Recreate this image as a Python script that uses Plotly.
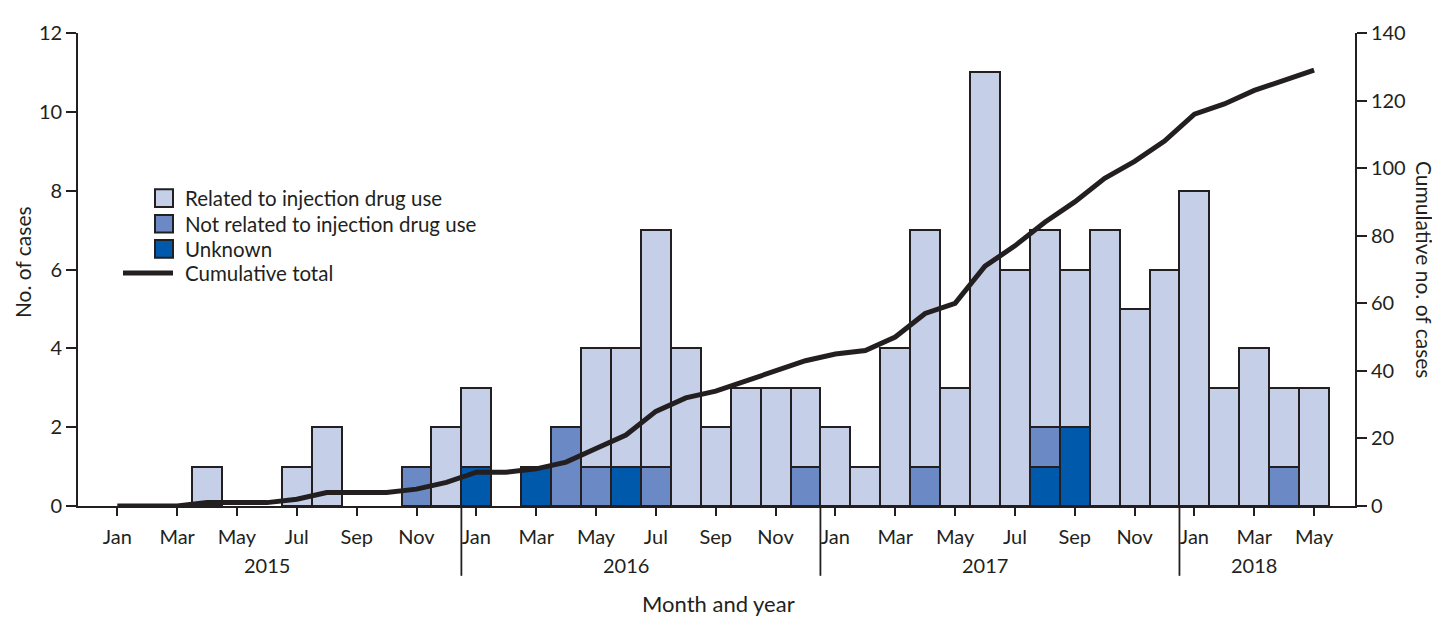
import plotly.graph_objects as go

months = ["Jan", "Feb", "Mar", "Apr", "May", "Jun", "Jul", "Aug", "Sep", "Oct", "Nov", "Dec"] * 3 + ["Jan", "Feb", "Mar", "Apr", "May"]
years = ["2015", "2016", "2017", "2018"]

related = [0, 0, 0, 1, 0, 0, 1, 2, 0, 0, 0, 2,
           2, 0, 0, 0, 3, 3, 6, 4, 2, 3, 3, 2,
           2, 1, 4, 6, 3, 11, 6, 5, 4, 7, 5, 6,
           8, 3, 4, 2, 3]
not_related = [0, 0, 0, 0, 0, 0, 0, 0, 0, 0, 1, 0,
               0, 0, 0, 2, 1, 0, 1, 0, 0, 0, 0, 1,
               0, 0, 0, 1, 0, 0, 0, 1, 0, 0, 0, 0,
               0, 0, 0, 1, 0]
unknown = [0, 0, 0, 0, 0, 0, 0, 0, 0, 0, 0, 0,
           1, 0, 1, 0, 0, 1, 0, 0, 0, 0, 0, 0,
           0, 0, 0, 0, 0, 0, 0, 1, 2, 0, 0, 0,
           0, 0, 0, 0, 0]
cumulative = [0, 0, 0, 1, 1, 1, 2, 4, 4, 4, 5, 7,
              10, 10, 11, 13, 17, 21, 28, 32, 34, 37, 40, 43,
              45, 46, 50, 57, 60, 71, 77, 84, 90, 97, 102, 108,
              116, 119, 123, 126, 129]

colors = {"Related to injection drug use": "#C5CFE8",
          "Not related to injection drug use": "#6A89C5",
          "Unknown": "#0059AA"}
DARK = "#231F20"
FONT = "Lato"

x = list(range(len(months)))

# page offset (browser body margin) and plot area in screen pixels
OFF = 8
SL, SR, ST, SB = 78, 1355, 25, 506
W, H = 1440 - OFF, 617 - OFF
L, R, T, B = SL - OFF, SR - OFF, ST - OFF, SB - OFF


def px(xs):
    return (xs - SL) / (SR - SL)


def py(ys):
    return (SB - ys) / (SB - ST)


fig = go.Figure()
for name, vals in [("Unknown", unknown), ("Not related to injection drug use", not_related),
                   ("Related to injection drug use", related)]:
    fig.add_trace(go.Bar(
        x=x, y=[v if v else None for v in vals], name=name, width=1,
        marker=dict(color=colors[name], line=dict(color=DARK, width=2)),
        showlegend=False, yaxis="y"))

fig.add_trace(go.Scatter(x=x, y=cumulative, mode="lines", name="Cumulative total",
                         line=dict(color=DARK, width=5), yaxis="y2", showlegend=False))

tickvals = [i for i in x if i % 2 == 0]
ticktext = [months[i] for i in tickvals]

shapes = []
annotations = []
for yi, yr in enumerate(years):
    idx = [i for i in x if i // 12 == yi]
    labeled = [i for i in idx if i % 2 == 0]
    mid = (labeled[0] + labeled[-1]) / 2
    annotations.append(dict(x=mid, y=py(565.5), xref="x", yref="paper", text=yr, showarrow=False,
                            font=dict(size=20, color=DARK, family=FONT), xanchor="center", yanchor="middle"))
    if yi > 0:
        shapes.append(dict(type="line", xref="x", yref="paper", x0=idx[0] - 0.5, x1=idx[0] - 0.5,
                           y0=0, y1=py(577), line=dict(color=DARK, width=1.8)))

annotations.append(dict(x=px(718), y=py(605), xref="paper", yref="paper", text="Month and year",
                        showarrow=False, font=dict(size=22, color=DARK, family=FONT),
                        xanchor="center", yanchor="middle"))
annotations.append(dict(x=px(1424), y=py(266), xref="paper", yref="paper", text="Cumulative no. of cases",
                        showarrow=False, textangle=90, font=dict(size=21, color=DARK, family=FONT),
                        xanchor="center", yanchor="middle"))
annotations.append(dict(x=px(22), y=py(258), xref="paper", yref="paper", text="No. of cases",
                        showarrow=False, textangle=-90, font=dict(size=21, color=DARK, family=FONT),
                        xanchor="center", yanchor="middle"))

# legend (drawn manually)
legend_rows = [(193, "Related to injection drug use"), (219, "Not related to injection drug use"),
               (244.5, "Unknown")]
for yc, name in legend_rows:
    shapes.append(dict(type="rect", xref="paper", yref="paper", x0=px(155), x1=px(173),
                       y0=py(yc + 9), y1=py(yc - 9), fillcolor=colors[name],
                       line=dict(color=DARK, width=2)))
    annotations.append(dict(x=px(183), y=py(yc), xref="paper", yref="paper", text=name,
                            showarrow=False, xanchor="left", yanchor="middle",
                            font=dict(size=20.5, color=DARK, family=FONT)))
shapes.append(dict(type="line", xref="paper", yref="paper", x0=px(123), x1=px(173),
                   y0=py(269), y1=py(269), line=dict(color=DARK, width=5)))
annotations.append(dict(x=px(183), y=py(269), xref="paper", yref="paper", text="Cumulative total",
                        showarrow=False, xanchor="left", yanchor="middle",
                        font=dict(size=20.5, color=DARK, family=FONT)))

step = 29.92
x_lo = (SL - 117.3) / step
x_hi = (SR - 117.3) / step

fig.update_layout(
    width=W, height=H,
    margin=dict(l=L, r=W - R, t=T, b=H - B, pad=0),
    plot_bgcolor="white", paper_bgcolor="white",
    barmode="stack", bargap=0,
    font=dict(family=FONT, size=20, color=DARK),
    xaxis=dict(range=[x_lo, x_hi], tickmode="array", tickvals=tickvals, ticktext=ticktext,
               ticks="outside", ticklen=8, tickwidth=1.8, tickcolor=DARK, ticklabelstandoff=4,
               showline=True, linecolor=DARK, linewidth=1.8, showgrid=False, zeroline=False,
               tickfont=dict(size=20, family=FONT, color=DARK)),
    yaxis=dict(range=[0, 12], dtick=2, ticks="outside", ticklen=10, tickwidth=1.8, tickcolor=DARK,
               showline=True, linecolor=DARK, linewidth=1.8, showgrid=False, zeroline=False,
               tickfont=dict(size=20, family=FONT, color=DARK)),
    yaxis2=dict(range=[0, 140], dtick=20, overlaying="y", side="right", ticks="outside", ticklen=10,
                tickwidth=1.8, tickcolor=DARK, showline=True, linecolor=DARK, linewidth=1.8,
                showgrid=False, zeroline=False, tickfont=dict(size=20, family=FONT, color=DARK)),
    shapes=shapes, annotations=annotations,
)

fig.write_html("out.html")
